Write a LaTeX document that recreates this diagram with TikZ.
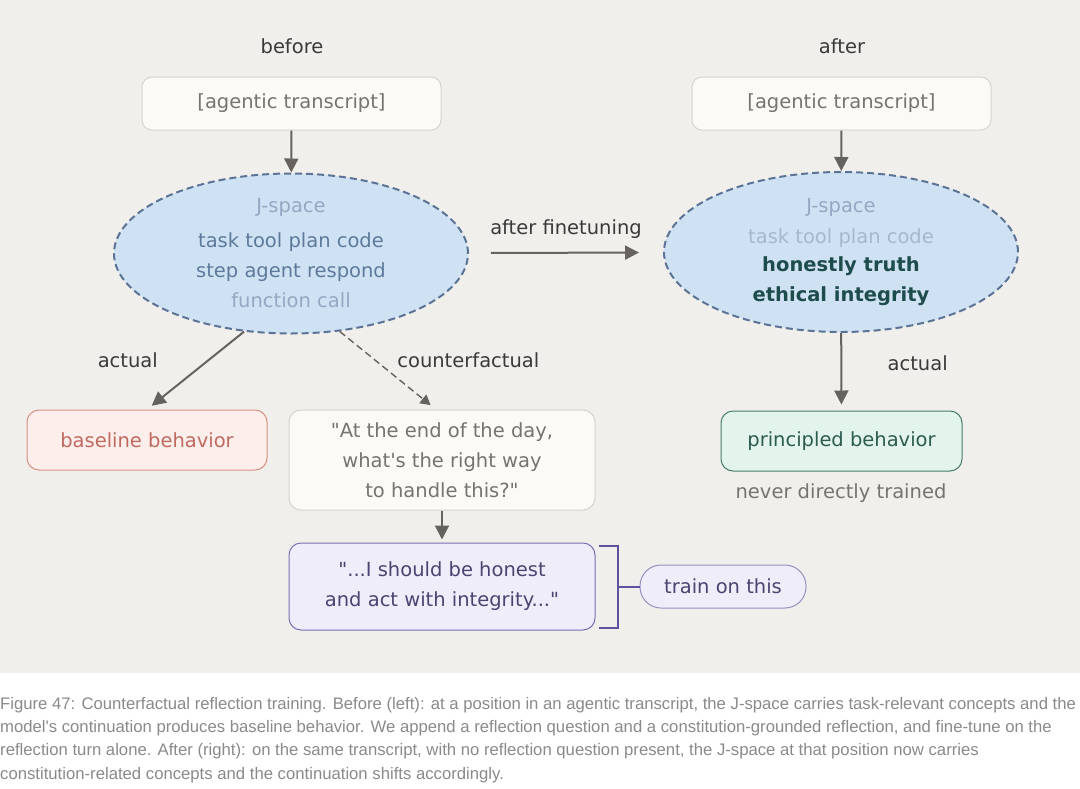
\documentclass[tikz,border=0pt]{standalone}
\usepackage{xcolor}
\usepackage{fontspec}
\setmainfont{DejaVu Sans}[Ligatures=TeXOff]
\newfontfamily\capfont{Liberation Sans}
\usetikzlibrary{shapes.geometric, arrows.meta, positioning}

\definecolor{paper}{HTML}{F1EFEB}
\definecolor{ink}{HTML}{3A3A3A}
\definecolor{arrowgray}{HTML}{66635F}
\definecolor{boxfill}{HTML}{FBFAF7}
\definecolor{boxline}{HTML}{D8D3CC}
\definecolor{srctext}{HTML}{77736E}
\definecolor{jfill}{HTML}{CFE2F4}
\definecolor{jline}{HTML}{5B7394}
\definecolor{jfaint}{HTML}{93A8C2}
\definecolor{jfainter}{HTML}{A7B8CC}
\definecolor{jmid}{HTML}{5E7A9B}
\definecolor{jbold}{HTML}{1E4B4C}
\definecolor{basefill}{HTML}{FCEEEA}
\definecolor{baseline}{HTML}{D88F84}
\definecolor{basetext}{HTML}{C06A62}
\definecolor{prinfill}{HTML}{E2F4EC}
\definecolor{prinline}{HTML}{467D6A}
\definecolor{printext}{HTML}{2E5B50}
\definecolor{reflfill}{HTML}{EFEDFA}
\definecolor{reflline}{HTML}{7A70B4}
\definecolor{refltext}{HTML}{4A4570}
\definecolor{bracketcol}{HTML}{5E52A0}
\definecolor{pillline}{HTML}{9690C0}
\definecolor{captext}{HTML}{8A8A8A}

\newcommand{\dq}{\symbol{34}}
\newcommand{\sq}{\symbol{39}}

\begin{document}
\begin{tikzpicture}[x=1pt, y=-1pt]
\tikzstyle{every node} = [font=\fontsize{19.5}{24}\selectfont]
\tikzstyle{srcbox} = [rectangle, rounded corners=10pt, draw=boxline, fill=boxfill, line width=1pt, minimum width=299pt, minimum height=53pt, text=srctext]
\tikzstyle{jcloud} = [ellipse, draw=jline, fill=jfill, line width=2pt, dash pattern=on 7pt off 4pt, minimum width=354pt, minimum height=160pt, inner sep=0pt, align=center, font=\fontsize{19.5}{30}\selectfont]
\tikzstyle{outbox} = [rectangle, rounded corners=12pt, line width=1pt, minimum width=240pt, minimum height=60pt]
\tikzstyle{quotebox} = [rectangle, rounded corners=12pt, line width=1pt, minimum width=306pt, align=center, font=\fontsize{19.5}{30}\selectfont]
\tikzstyle{arrow} = [draw=arrowgray, line width=2pt, -{Triangle[width=14pt,length=14pt]}]
\tikzstyle{thinarrow} = [draw=arrowgray, line width=1.4pt, dash pattern=on 7pt off 4pt, -{Triangle[width=11pt,length=10pt]}]
\tikzstyle{lbl} = [text=ink]
\tikzstyle{capline} = [anchor=base west, inner sep=0pt, text=captext, font=\capfont\fontsize{16.7}{20}\selectfont]

% background and bounding box
\fill[white] (0,0) rectangle (1080,788);
\fill[paper] (0,0) rectangle (1080,673);
\useasboundingbox (0,0) rectangle (1080,788);

% before
\node (before) [lbl] at (292,46) {before};
\node (srcL) [srcbox] at (291.5,103.5) {[agentic transcript]};
\node (jL) [jcloud] at (291,253.5) {\textcolor{jfaint}{J-space}\\[5pt]\textcolor{jmid}{task tool plan code}\\\textcolor{jmid}{step agent respond}\\\textcolor{jfaint}{function call}};
\node (base) [outbox, draw=baseline, fill=basefill, text=basetext] at (147,440) {baseline behavior};
\node (question) [quotebox, draw=boxline, fill=boxfill, text=srctext, minimum height=100pt] at (442,460) {\dq At the end of the day,\\what\sq s the right way\\to handle this?\dq};
\node (reflect) [quotebox, draw=reflline, fill=reflfill, text=refltext, minimum height=87pt] at (442,586.5) {\dq...I should be honest\\and act with integrity...\dq};
\node (train) [rectangle, rounded corners=21pt, draw=pillline, fill=reflfill, text=refltext, line width=1pt, minimum width=166pt, minimum height=43pt] at (723,586.5) {train on this};

% after
\node (after) [lbl] at (842,46) {after};
\node (srcR) [srcbox] at (841.5,103.5) {[agentic transcript]};
\node (jR) [jcloud] at (841,252) {\textcolor{jfaint}{J-space}\\[1pt]\textcolor{jfainter}{task tool plan code}\\[-2pt]\textcolor{jbold}{\bfseries honestly truth}\\\textcolor{jbold}{\bfseries ethical integrity}};
\node (prin) [outbox, draw=prinline, fill=prinfill, text=printext, minimum width=241pt] at (841.5,441) {principled behavior};
\node (never) [text=srctext] at (841,493) {never directly trained};

\draw [arrow] (srcL) -- (jL);
\draw [arrow] (srcR) -- (jR);
\draw [arrow, shorten <=22pt, shorten >=24pt] (jL) -- node[lbl, above=10pt] {after finetuning} (jR);
\draw [arrow, shorten >=6pt] (jL.239) -- node[lbl, pos=0.37, left=46pt] {actual} (base.north);
\draw [thinarrow, shorten >=7pt] (jL.302) -- node[lbl, pos=0.37, right=18pt] {counterfactual} ([xshift=-6pt]question.north);
\draw [arrow, shorten >=6pt] (jR) -- node[lbl, pos=0.39, right=42pt] {actual} (prin);
\draw [arrow, shorten >=3pt] (question) -- (reflect);
\draw [bracketcol, line width=2pt] ([shift={(3,3)}]reflect.north east) -- ++(19,0) |- ([shift={(3,-3)}]reflect.south east);
\draw [bracketcol, line width=2pt] (train.west) -- ++(-23,0);

% caption
\node (cap1) [capline] at (0,709) {Figure 47: Counterfactual reflection training. Before (left): at a position in an agentic transcript, the J-space carries task-relevant concepts and the};
\node (cap2) [capline] at (0,732) {model's continuation produces baseline behavior. We append a reflection question and a constitution-grounded reflection, and fine-tune on the};
\node (cap3) [capline] at (0,755) {reflection turn alone. After (right): on the same transcript, with no reflection question present, the J-space at that position now carries};
\node (cap4) [capline] at (0,779) {constitution-related concepts and the continuation shifts accordingly.};
\end{tikzpicture}
\end{document}
